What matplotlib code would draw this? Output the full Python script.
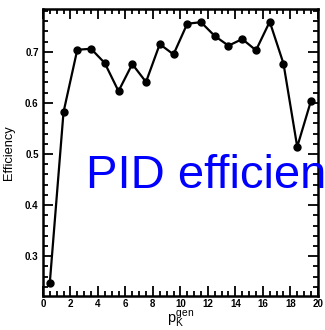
import matplotlib
matplotlib.use('Agg')
import matplotlib.pyplot as plt
from matplotlib.ticker import MultipleLocator

plt.rcParams['font.family'] = ['Liberation Sans', 'DejaVu Sans']
plt.rcParams['mathtext.fontset'] = 'custom'
plt.rcParams['mathtext.rm'] = 'Liberation Sans'
plt.rcParams['mathtext.it'] = 'Liberation Sans'

# kaon momentum bin centres and PID efficiency
p_gen = [0.5, 1.5, 2.5, 3.5, 4.5, 5.5, 6.5, 7.5, 8.5, 9.5,
         10.5, 11.5, 12.5, 13.5, 14.5, 15.5, 16.5, 17.5, 18.5, 19.5]
eff = [0.247, 0.582, 0.704, 0.706, 0.678, 0.623, 0.676, 0.641, 0.715, 0.695,
       0.755, 0.758, 0.731, 0.712, 0.725, 0.703, 0.759, 0.677, 0.514, 0.604]

fig = plt.figure(figsize=(3.25, 3.3), dpi=100)
ax = fig.add_axes([0.132, 0.103, 0.846, 0.870])
ax.plot(p_gen, eff, '-o', color='black', lw=1.6, ms=5)

ax.set_xlim(0, 20)
ax.set_ylim(0.222, 0.784)
ax.xaxis.set_major_locator(MultipleLocator(2))
ax.xaxis.set_minor_locator(MultipleLocator(0.5))
ax.yaxis.set_major_locator(MultipleLocator(0.1))
ax.yaxis.set_minor_locator(MultipleLocator(0.02))
ax.tick_params(which='both', direction='in', top=True, right=True, width=1.3)
ax.tick_params(which='major', length=7, labelsize=7, pad=3)
ax.tick_params(axis='x', which='major', pad=2)
ax.tick_params(which='minor', length=3.5)
for lab in ax.get_xticklabels() + ax.get_yticklabels():
    lab.set_fontweight('bold')
for s in ax.spines.values():
    s.set_linewidth(1.8)

ax.set_ylabel('Efficiency', fontsize=9.3, labelpad=7)
ax.set_xlabel(r'$p_{K}^{gen}$', fontsize=10.5, labelpad=0)

# big label runs past the right edge of the figure
fig.text(86 / 325, 1 - 188 / 330, 'PID efficiency', color='blue', fontsize=34, va='baseline')

fig.savefig('out.png', dpi=100)
